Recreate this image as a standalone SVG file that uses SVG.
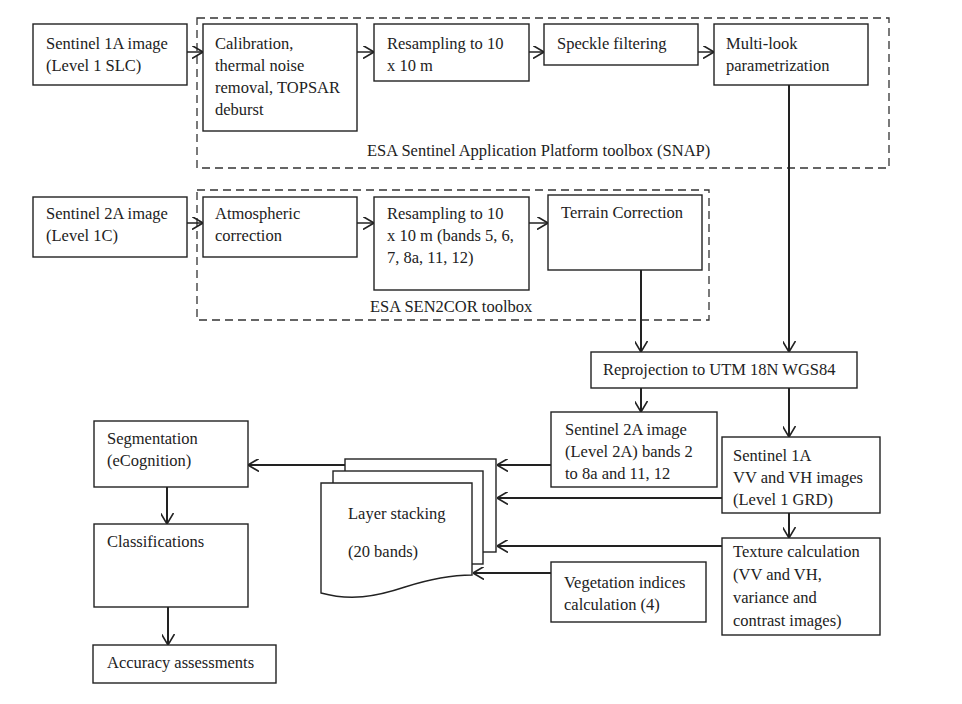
<svg xmlns="http://www.w3.org/2000/svg" width="962" height="704" viewBox="0 0 962 704">
<defs>
<marker id="arr" viewBox="0 0 11 13" refX="11" refY="6.5" markerWidth="11" markerHeight="13" markerUnits="userSpaceOnUse" orient="auto">
<path d="M0,0 L11,6.5 L0,13" fill="none" stroke="#222" stroke-width="1.6"/>
</marker>
<style>
.box{fill:#fff;stroke:#222;stroke-width:1.4}
.dash{fill:none;stroke:#333;stroke-width:1.3;stroke-dasharray:8 5}
text{font-family:"Liberation Serif","Times New Roman",serif;font-size:16.5px;fill:#222}
.c{fill:none;stroke:#222;stroke-width:2;marker-end:url(#arr)}
.c1{fill:none;stroke:#222;stroke-width:1.5;marker-end:url(#arr)}
</style>
</defs>
<rect width="962" height="704" fill="#fff"/>

<g id="snap">
<rect class="dash" x="197" y="18" width="692" height="150"/>
<text x="367" y="156">ESA Sentinel Application Platform toolbox (SNAP)</text>
</g>
<g id="sen2cor">
<rect class="dash" x="197" y="190" width="512" height="130"/>
<text x="370" y="312">ESA SEN2COR toolbox</text>
</g>

<g id="s1a">
<rect class="box" x="33" y="24" width="154" height="61"/>
<text x="46" y="49">Sentinel 1A image</text>
<text x="46" y="71">(Level 1 SLC)</text>
</g>
<g id="calib">
<rect class="box" x="203" y="24" width="154" height="107"/>
<text x="215" y="49">Calibration,</text>
<text x="215" y="71">thermal noise</text>
<text x="215" y="93">removal, TOPSAR</text>
<text x="215" y="115">deburst</text>
</g>
<g id="resamp1">
<rect class="box" x="374" y="24" width="155" height="57"/>
<text x="387" y="49">Resampling to 10</text>
<text x="387" y="71">x 10 m</text>
</g>
<g id="speckle">
<rect class="box" x="544" y="24" width="154" height="41"/>
<text x="557" y="49">Speckle filtering</text>
</g>
<g id="multilook">
<rect class="box" x="714" y="24" width="154" height="61"/>
<text x="726" y="49">Multi-look</text>
<text x="726" y="71">parametrization</text>
</g>

<g id="s2a">
<rect class="box" x="33" y="197" width="154" height="60"/>
<text x="46" y="219">Sentinel 2A image</text>
<text x="46" y="241">(Level 1C)</text>
</g>
<g id="atmos">
<rect class="box" x="203" y="197" width="154" height="60"/>
<text x="215" y="219">Atmospheric</text>
<text x="215" y="241">correction</text>
</g>
<g id="resamp2">
<rect class="box" x="374" y="197" width="155" height="93"/>
<text x="387" y="219">Resampling to 10</text>
<text x="387" y="241">x 10 m (bands 5, 6,</text>
<text x="387" y="263">7, 8a, 11, 12)</text>
</g>
<g id="terrain">
<rect class="box" x="548" y="195" width="154" height="75"/>
<text x="561" y="218">Terrain Correction</text>
</g>

<g id="reproj">
<rect class="box" x="591" y="352" width="266" height="36"/>
<text x="603" y="375">Reprojection to UTM 18N WGS84</text>
</g>

<g id="s2a-l2a">
<rect class="box" x="551" y="412" width="166" height="75"/>
<text x="565" y="435">Sentinel 2A image</text>
<text x="565" y="457">(Level 2A) bands 2</text>
<text x="565" y="479">to 8a and 11, 12</text>
</g>
<g id="s1a-grd">
<rect class="box" x="722" y="437" width="158" height="76"/>
<text x="733" y="461">Sentinel 1A</text>
<text x="733" y="483">VV and VH images</text>
<text x="733" y="505">(Level 1 GRD)</text>
</g>
<g id="texture">
<rect class="box" x="722" y="538" width="158" height="97"/>
<text x="733" y="557">Texture calculation</text>
<text x="733" y="580">(VV and VH,</text>
<text x="733" y="603">variance and</text>
<text x="733" y="626">contrast images)</text>
</g>
<g id="vegetation">
<rect class="box" x="551" y="562" width="155" height="60"/>
<text x="564" y="588">Vegetation indices</text>
<text x="564" y="610">calculation (4)</text>
</g>

<g id="stack">
<rect class="box" x="345" y="459" width="151" height="93"/>
<rect class="box" x="333" y="471" width="150" height="93"/>
<path class="box" d="M321,483 H472 V575 C450,575 430,579 405,587 C375,597 350,601 321,593 Z"/>
<text x="348" y="519">Layer stacking</text>
<text x="348" y="557">(20 bands)</text>
</g>

<g id="segmentation">
<rect class="box" x="94" y="421" width="154" height="66"/>
<text x="107" y="444">Segmentation</text>
<text x="107" y="466">(eCognition)</text>
</g>
<g id="classifications">
<rect class="box" x="94" y="524" width="154" height="83"/>
<text x="107" y="547">Classifications</text>
</g>
<g id="accuracy">
<rect class="box" x="93" y="645" width="183" height="38"/>
<text x="107" y="668">Accuracy assessments</text>
</g>

<g id="connectors">
<line class="c1" x1="187" y1="52" x2="203" y2="52"/>
<line class="c1" x1="357" y1="52" x2="374" y2="52"/>
<line class="c1" x1="529" y1="52" x2="544" y2="52"/>
<line class="c1" x1="698" y1="52" x2="714" y2="52"/>
<line class="c" x1="789" y1="85" x2="789" y2="352"/>
<line class="c1" x1="187" y1="223" x2="203" y2="223"/>
<line class="c1" x1="357" y1="223" x2="374" y2="223"/>
<line class="c1" x1="529" y1="223" x2="548" y2="223"/>
<line class="c" x1="641" y1="270" x2="641" y2="352"/>
<line class="c" x1="641" y1="388" x2="641" y2="412"/>
<line class="c" x1="789" y1="388" x2="789" y2="437"/>
<line class="c" x1="789" y1="513" x2="789" y2="538"/>
<line class="c" x1="551" y1="465" x2="497" y2="465"/>
<line class="c" x1="722" y1="498" x2="497" y2="498"/>
<line class="c" x1="722" y1="546" x2="497" y2="546"/>
<line class="c" x1="551" y1="573" x2="473" y2="573"/>
<line class="c" x1="345" y1="465" x2="248" y2="465"/>
<line class="c" x1="167" y1="487" x2="167" y2="524"/>
<line class="c" x1="168" y1="607" x2="168" y2="645"/>
</g>
</svg>
